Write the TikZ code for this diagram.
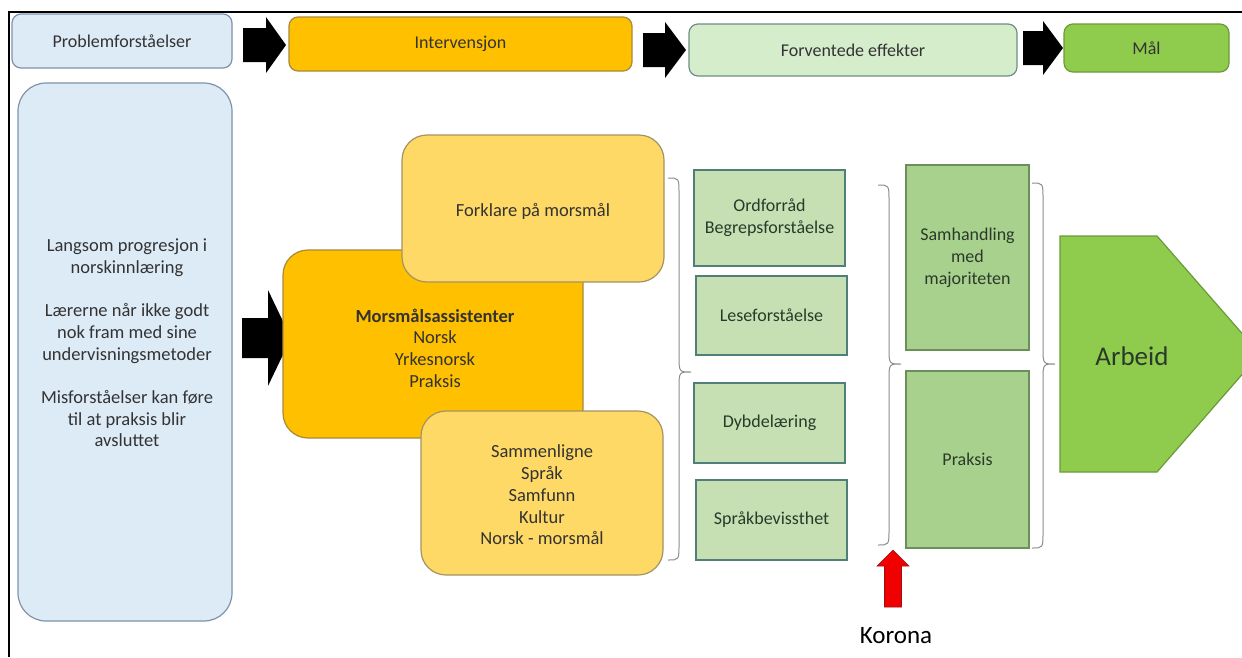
\documentclass[tikz,border=0pt]{standalone}
\usepackage{fontspec}
\setmainfont{Carlito}
\definecolor{lblue}{HTML}{DDEBF7}
\definecolor{lbluedraw}{HTML}{7F93A8}
\definecolor{amber}{HTML}{FFC000}
\definecolor{amberdraw}{HTML}{A8893A}
\definecolor{lyellow}{HTML}{FFD966}
\definecolor{lyellowdraw}{HTML}{A39363}
\definecolor{pgreen}{HTML}{D6EDCC}
\definecolor{pgreendraw}{HTML}{6F8E86}
\definecolor{sgreen}{HTML}{C6E0B4}
\definecolor{sgreendraw}{HTML}{4F7F78}
\definecolor{mgreen}{HTML}{A9D18E}
\definecolor{mgreendraw}{HTML}{6A8F5A}
\definecolor{dgreen}{HTML}{8FCB4D}
\definecolor{dgreendraw}{HTML}{6B9A3A}
\definecolor{txt}{HTML}{333333}
\definecolor{gtxt}{HTML}{2A3A2A}
\definecolor{bracec}{HTML}{8C8C8C}
\definecolor{korred}{HTML}{F00000}
\definecolor{korreddraw}{HTML}{9E1010}
\newcommand{\blockarr}[6]{% tail, shaftend, tip, cy, shafthalf, headhalf
  \fill[black] (#1,#4-#5) -- (#2,#4-#5) -- (#2,#4-#6) -- (#3,#4) -- (#2,#4+#6) -- (#2,#4+#5) -- (#1,#4+#5) -- cycle;}
\newcommand{\curlybr}[4]{% x, ytop, ybottom, ytip
  \draw[bracec, line width=1pt]
    (#1,#2) .. controls (#1+11,#2) .. (#1+11,#2+16) -- (#1+11,#4-16)
    .. controls (#1+11,#4) .. (#1+23,#4)
    .. controls (#1+11,#4) .. (#1+11,#4+16) -- (#1+11,#3-16)
    .. controls (#1+11,#3) .. (#1,#3);}
\begin{document}
\begin{tikzpicture}[x=1pt,y=-1pt,
  base/.style={inner sep=0pt, line width=1.2pt, text=txt,
    font=\fontsize{18}{22}\selectfont, align=center},
  topbox/.style={base, rounded corners=9pt},
  roundbox/.style={base, rounded corners=25pt},
  sqbox/.style={base, text=gtxt},
  plain/.style={inner sep=0pt, text=txt, font=\fontsize{18.5}{21.7}\selectfont, align=center}]
\useasboundingbox (0,0) rectangle (1242,657);
\fill[white] (0,0) rectangle (1242,657);
% frame
\draw[black, line width=1.5pt] (9,657) -- (9,12) -- (1242,12);

% top row
\node[topbox, fill=lblue, draw=lbluedraw, minimum width=220pt, minimum height=54pt] (prob) at (122,41) {Problemforståelser};
\node[topbox, fill=amber, draw=amberdraw, minimum width=343pt, minimum height=54pt] (interv) at (460.5,44) {Intervensjon};
\node[topbox, fill=pgreen, draw=pgreendraw, minimum width=328pt, minimum height=52pt] (forv) at (853,50) {Forventede effekter};
\node[topbox, fill=dgreen, draw=dgreendraw, minimum width=165pt, minimum height=48pt] (maal) at (1146.5,48) {Mål};
\blockarr{243}{266}{286}{45}{17}{28}
\blockarr{643}{665}{686}{50}{17}{28}
\blockarr{1023}{1043}{1063}{48}{17}{27}

% left column
\node[base, rounded corners=28pt, fill=lblue, draw=lbluedraw, minimum width=214pt, minimum height=538pt] (left) at (125,352) {};
\node[plain] (lefttext) at (127,343) {Langsom progresjon i\\norskinnlæring\\[21.7pt]Lærerne når ikke godt\\nok fram med sine\\undervisningsmetoder\\[21.7pt]Misforståelser kan føre\\til at praksis blir\\avsluttet};
\blockarr{242}{268}{291}{338}{20}{48}

% intervention cluster
\node[roundbox, fill=amber, draw=amberdraw, minimum width=300pt, minimum height=188pt] (mors) at (433,344) {};
\node[plain] (morstext) at (435,348) {\textbf{Morsmålsassistenter}\\Norsk\\Yrkesnorsk\\Praksis};
\node[roundbox, fill=lyellow, draw=lyellowdraw, minimum width=262pt, minimum height=147pt] (fork) at (533,208.5) {};
\node[plain] (forktext) at (533,211) {Forklare på morsmål};
\node[roundbox, fill=lyellow, draw=lyellowdraw, minimum width=242pt, minimum height=164pt] (samm) at (542,493) {};
\node[plain] (sammtext) at (542,495) {Sammenligne\\Språk\\Samfunn\\Kultur\\Norsk - morsmål};

\curlybr{668}{178}{560}{372}

% effects
\node[sqbox, fill=sgreen, draw=sgreendraw, minimum width=151pt, minimum height=96pt] (ord) at (769.5,218) {Ordforråd\\Begrepsforståelse};
\node[sqbox, fill=sgreen, draw=sgreendraw, minimum width=151pt, minimum height=79pt] (les) at (771.5,315.5) {Leseforståelse};
\node[sqbox, fill=sgreen, draw=sgreendraw, minimum width=151pt, minimum height=80pt] (dyb) at (769.5,423) {Dybdelæring};
\node[sqbox, fill=sgreen, draw=sgreendraw, minimum width=151pt, minimum height=80pt] (spr) at (771.5,520) {Språkbevissthet};

\curlybr{878}{185}{545}{364}

\node[sqbox, fill=mgreen, draw=mgreendraw, minimum width=123pt, minimum height=185pt] (samh) at (967.5,257.5) {Samhandling\\med\\majoriteten};
\node[sqbox, fill=mgreen, draw=mgreendraw, minimum width=123pt, minimum height=177pt] (prak) at (967.5,459.5) {Praksis};

\curlybr{1032}{183}{548}{364}

% goal shape
\begin{scope}
\clip (0,0) rectangle (1242,657);
\draw[fill=dgreen, draw=dgreendraw, line width=1.2pt] (1060,236) -- (1157,236) -- (1260,354) -- (1157,472) -- (1060,472) -- cycle;
\end{scope}
\node[inner sep=0pt, text=gtxt, font=\fontsize{27}{30}\selectfont] (arbeid) at (1132,356) {Arbeid};

% Korona
\node[inner sep=0pt, text=black, font=\fontsize{25}{30}\selectfont] (korona) at (896,636) {Korona};
\fill[korred, draw=korreddraw, line width=0.6pt] (893,550) -- (909,566) -- (901.5,566) -- (901.5,607) -- (884.5,607) -- (884.5,566) -- (877,566) -- cycle;
\end{tikzpicture}
\end{document}
